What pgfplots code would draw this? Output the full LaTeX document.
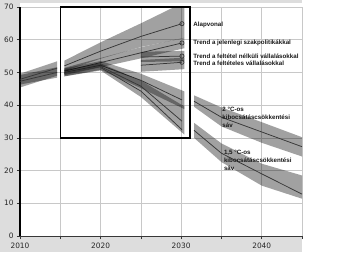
\documentclass[border=0pt]{standalone}
\usepackage{fontspec}
\setmainfont{DejaVu Sans}
\newfontfamily\lab{Liberation Sans}
\usepackage{pgfplots}
\pgfplotsset{compat=1.18}
\definecolor{bgg}{RGB}{221,221,221}
\definecolor{gridc}{RGB}{200,200,200}
\definecolor{ln}{RGB}{55,55,55}
\begin{document}
\begin{tikzpicture}[x=1pt,y=1pt]
\useasboundingbox (0,0) rectangle (350,252);
\fill[bgg] (0,0) rectangle (20,252);
\fill[bgg] (0,0) rectangle (302,16);
\fill[bgg] (0,249) rectangle (302,252);
\begin{axis}[
  at={(20pt,16pt)}, anchor=south west, scale only axis,
  width=282pt, height=229pt,
  xmin=2010, xmax=2045, ymin=0, ymax=70,
  axis x line*=bottom, axis y line*=left,
  xtick={2010,2020,2030,2040}, minor xtick={2015,2025,2035,2045},
  ytick={0,10,...,70},
  grid=both,
  major grid style={gridc, line width=0.6pt},
  minor grid style={gridc, line width=0.6pt},
  tick align=outside, major tick length=3pt, minor tick length=3pt,
  tick style={ln, line width=0.5pt},
  x axis line style={ln, line width=0.9pt, -},
  y axis line style={black, line width=1.3pt, -},
  /pgf/number format/1000 sep={},
  /pgf/number format/assume math mode=true,
  ticklabel style={font=\fontsize{7.4}{8}\selectfont, text=black!85},
  clip mode=individual,
  band/.style={draw=none, fill=black, fill opacity=0.37, forget plot},
  tl/.style={ln, line width=0.75pt, forget plot},
  cm/.style={ln, only marks, mark=o, mark size=2.1pt, mark options={line width=0.7pt}, forget plot},
]
% historical
\addplot[band] coordinates {(2010,49.6)(2014.6,53.4)(2014.6,49.0)(2010,45.4)} --cycle;
\addplot[band] coordinates {(2010,49.2)(2014.6,51.6)(2014.6,48.4)(2010,46.3)} --cycle;
\addplot[tl] coordinates {(2010,47.9)(2014.6,51.3)};
\addplot[tl] coordinates {(2010,47.3)(2014.6,50.0)};
% Alapvonal
\addplot[band] coordinates {(2015.5,53.6)(2020,59.2)(2025,65.0)(2030.4,71.5)(2030.4,60.5)(2025,57.8)(2020,54.2)(2015.5,50.4)} --cycle;
\addplot[tl] coordinates {(2015.5,52.0)(2020,56.5)(2025,61.0)(2030.1,64.9)};
% Trend jelenlegi
\addplot[band] coordinates {(2015.5,51.4)(2020,54.4)(2025,57.7)(2030.4,60.6)(2030.4,57.4)(2025,54.3)(2020,51.6)(2015.5,49.2)} --cycle;
\addplot[tl] coordinates {(2015.5,50.4)(2020,53.0)(2025,56.0)(2030.1,59.0)};
% feltetel nelkuli / felteteles
\addplot[band] coordinates {(2025,56.3)(2030.4,56.6)(2030.4,53.4)(2025,53.2)} --cycle;
\addplot[tl] coordinates {(2025,54.7)(2030.1,55.0)};
\addplot[band] coordinates {(2025,53.8)(2030.4,54.5)(2030.4,51.0)(2025,50.2)} --cycle;
\addplot[tl] coordinates {(2025,52.2)(2030.1,53.1)};
% 2 C
\addplot[band] coordinates {(2015.5,51.2)(2020,53.5)(2025,49.6)(2030.4,44.2)(2030.4,38.8)(2025,45.2)(2020,50.8)(2015.5,48.8)} --cycle;
\addplot[tl] coordinates {(2015.5,50.0)(2020,52.2)(2025,47.6)(2030.1,41.6)};
\addplot[band] coordinates {(2031.6,43.0)(2035,39.3)(2040,34.8)(2045,30.2)(2045,24.3)(2040,28.5)(2035,33.5)(2031.6,39.5)} --cycle;
\addplot[tl] coordinates {(2031.6,41.2)(2035,36.3)(2040,31.8)(2045,27.3)};
% 1.5 C
\addplot[band] coordinates {(2015.5,50.8)(2020,52.8)(2025,47.5)(2030.4,39.6)(2030.4,31.0)(2025,42.5)(2020,50.6)(2015.5,48.8)} --cycle;
\addplot[tl] coordinates {(2015.5,49.7)(2020,51.8)(2025,45.8)(2030.1,35.1)};
\addplot[tl] coordinates {(2020,51.5)(2025,44.3)(2030.1,32.5)};
\addplot[band] coordinates {(2031.6,34.6)(2035,28.3)(2040,22.1)(2045,18.5)(2045,11.4)(2040,15.4)(2035,22.6)(2031.6,30.0)} --cycle;
\addplot[tl] coordinates {(2031.6,32.3)(2035,25.3)(2040,19.0)(2045,12.8)};
% markers
\addplot[cm] coordinates {(2030.1,64.9)(2030.1,59.0)(2030.1,55.0)(2030.1,53.1)};
% frame
\draw[black, line width=1.3pt] (axis cs:2015,30) rectangle (axis cs:2031.1,70);
% labels
\begin{scope}[every node/.style={anchor=west, inner sep=0pt, align=left, text=black!90, font=\lab\bfseries\fontsize{6.2}{7.9}\selectfont}]
\node at (axis cs:2031.5,64.5) {Alapvonal};
\node at (axis cs:2031.5,58.9) {Trend a jelenlegi szakpolitikákkal};
\node at (axis cs:2031.5,54.8) {Trend a feltétel nélküli vállalásokkal};
\node at (axis cs:2031.5,52.8) {Trend a feltételes vállalásokkal};
\node at (axis cs:2035.1,36.3) {2 °C-os\\kibocsátáscsökkentési\\sáv};
\node at (axis cs:2035.3,23.2) {1,5 °C-os\\kibocsátáscsökkentési\\sáv};
\end{scope}
\end{axis}
\end{tikzpicture}
\end{document}
